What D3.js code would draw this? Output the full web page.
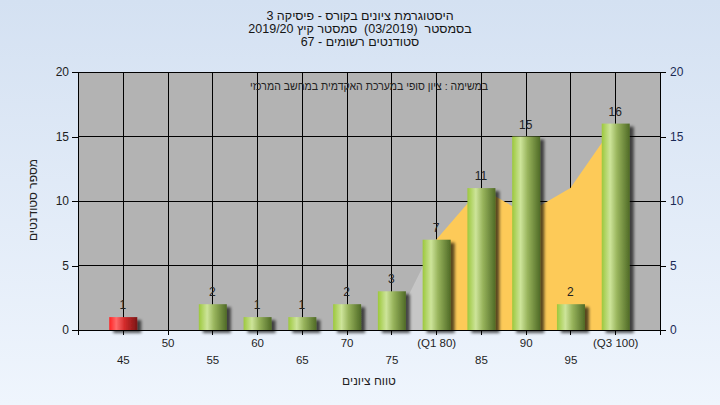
<!DOCTYPE html>
<html><head><meta charset="utf-8">
<script src="https://cdn.jsdelivr.net/npm/d3@7"></script>
<style>
html,body{margin:0;padding:0;overflow:hidden;}
svg text{font-family:"Liberation Sans","DejaVu Sans",sans-serif;}
</style></head>
<body>
<svg id="c" width="720" height="405"></svg>
<script>
const categories = ["45","50","55","60","65","70","75","80","85","90","95","100"];
const tickLabels = ["45","50","55","60","65","70","75","(Q1 80)","85","90","95","(Q3 100)"];
const counts = [1,0,2,1,1,2,3,7,11,15,2,16];
const areaValues = [0,0,0,0,0,0,0,7,11,9,11,16];
const failIndex = [0];
const yTicks = [0,5,10,15,20];
const titleLines = ["היסטוגרמת ציונים בקורס - פיסיקה 3","בסמסטר  (03/2019)  סמסטר קיץ 2019/20","סטודנטים רשומים - 67"];
const noteText = "במשימה : ציון סופי במערכת האקדמית במחשב המרכזי";
const xTitle = "טווח ציונים";
const yTitle = "מספר סטודנטים";
const q1 = "80", q3 = "100";

const svg = d3.select("#c");
const L = 78, R = 660, T = 72, B = 330;
const x = d3.scalePoint().domain(categories).range([L, R]).padding(1);
const y = d3.scaleLinear().domain([0, 20]).range([B, T]);
const defs = svg.append("defs");

const bg = defs.append("linearGradient").attr("id","bg").attr("x1",0).attr("y1",0).attr("x2",0).attr("y2",1);
bg.append("stop").attr("offset","0%").attr("stop-color","#d4e1f2");
bg.append("stop").attr("offset","100%").attr("stop-color","#eff5fd");

const gG = defs.append("linearGradient").attr("id","gbar").attr("x1",0).attr("y1",0).attr("x2",1).attr("y2",0);
[["0%","#9cc83c"],["30%","#cde49a"],["55%","#98b45c"],["100%","#4f6a26"]].forEach(s=>gG.append("stop").attr("offset",s[0]).attr("stop-color",s[1]));
const rG = defs.append("linearGradient").attr("id","rbar").attr("x1",0).attr("y1",0).attr("x2",1).attr("y2",0);
[["0%","#ff2020"],["25%","#ff6a6a"],["55%","#d22a2a"],["100%","#7a1616"]].forEach(s=>rG.append("stop").attr("offset",s[0]).attr("stop-color",s[1]));

const f = defs.append("filter").attr("id","sh").attr("x","-50%").attr("y","-50%").attr("width","200%").attr("height","200%");
f.append("feGaussianBlur").attr("in","SourceAlpha").attr("stdDeviation",1.8).attr("result","b");
f.append("feOffset").attr("in","b").attr("dx",4).attr("dy",3).attr("result","o");
f.append("feComponentTransfer").attr("in","o").attr("result","o2").append("feFuncA").attr("type","linear").attr("slope",0.65);
const fm = f.append("feMerge"); fm.append("feMergeNode").attr("in","o2"); fm.append("feMergeNode").attr("in","SourceGraphic");

defs.append("clipPath").attr("id","clipQ").append("rect")
  .attr("x", x(q1)).attr("y", T).attr("width", x(q3)-x(q1)).attr("height", B-T);
defs.append("clipPath").attr("id","clipLeft").append("rect")
  .attr("x", L).attr("y", T).attr("width", x(q1)-L).attr("height", B-T);

svg.append("rect").attr("width",720).attr("height",405).attr("fill","url(#bg)");

// plot background
svg.append("rect").attr("x",L).attr("y",T).attr("width",R-L).attr("height",B-T).attr("fill","#b3b3b3");

// gridlines
svg.append("g").selectAll("line").data(yTicks.filter(d=>d>0)).join("line")
  .attr("x1",L).attr("x2",R).attr("y1",d=>y(d)).attr("y2",d=>y(d)).attr("stroke","#000").attr("stroke-width",1).attr("shape-rendering","crispEdges");
svg.append("g").selectAll("line").data(categories).join("line")
  .attr("x1",d=>Math.round(x(d))).attr("x2",d=>Math.round(x(d))).attr("y1",T).attr("y2",B).attr("stroke","#000").attr("stroke-width",1).attr("shape-rendering","crispEdges");

// area series
const areaData = categories.map((c,i)=>({c, v: areaValues[i]}));
const area = d3.area().x(d=>x(d.c)).y0(B).y1(d=>y(d.v));
svg.append("path").datum(areaData).attr("d",area).attr("fill","#c6c6c6").attr("clip-path","url(#clipLeft)");
svg.append("path").datum(areaData).attr("d",area).attr("fill","#fdca58").attr("clip-path","url(#clipQ)");

// bars
const bw = 28;
const barData = categories.map((c,i)=>({c, v: counts[i], i})).filter(d=>d.v>0);
svg.append("g").selectAll("rect").data(barData).join("rect")
  .attr("x",d=>x(d.c)-bw/2+0.5).attr("width",bw)
  .attr("y",d=>y(d.v)).attr("height",d=>B-y(d.v))
  .attr("fill",d=>failIndex.includes(d.i)?"url(#rbar)":"url(#gbar)")
  .attr("filter","url(#sh)");

// value labels
svg.append("g").selectAll("text").data(barData).join("text")
  .attr("x",d=>x(d.c)).attr("y",d=>y(d.v)-8)
  .attr("text-anchor","middle").attr("font-size",12).attr("fill","#222")
  .text(d=>d.v);

// axes
const axL = svg.append("g").attr("transform",`translate(${L},0)`)
  .call(d3.axisLeft(y).tickValues(yTicks).tickSize(6).tickSizeOuter(0).tickPadding(3));
const axR = svg.append("g").attr("transform",`translate(${R},0)`)
  .call(d3.axisRight(y).tickValues(yTicks).tickSize(6).tickSizeOuter(0).tickPadding(4));
const axB = svg.append("g").attr("transform",`translate(0,${B})`)
  .call(d3.axisBottom(x).tickSize(5).tickSizeOuter(5).tickFormat((d,i)=>tickLabels[i]));
[axL,axR,axB].forEach(a=>{
  a.selectAll("path,line").attr("stroke","#000").attr("shape-rendering","crispEdges");
  a.selectAll("text").attr("font-size",12).attr("fill","#1e1e1e").attr("font-family","Liberation Sans, DejaVu Sans, sans-serif");
});
axR.selectAll("text").attr("fill","#1a2a55");
axB.selectAll(".tick text").attr("y",(d,i)=> i%2===0 ? 26 : 9).attr("dy","0.71em").attr("direction","ltr");
axB.selectAll(".tick text").attr("font-size",11.5);

// titles
svg.append("g").selectAll("text").data(titleLines).join("text")
  .attr("x",360).attr("y",(d,i)=>20+i*13).attr("text-anchor","middle")
  .attr("font-size",12.5).attr("fill","#151515").attr("direction","rtl").style("unicode-bidi","plaintext")
  .style("white-space","pre")
  .text(d=>d);

svg.append("text").attr("x",(L+R)/2).attr("y",90).attr("text-anchor","middle").attr("direction","rtl")
  .attr("font-size",11.5).attr("fill","#222")
  .attr("textLength",238).attr("lengthAdjust","spacingAndGlyphs").text(noteText);

svg.append("text").attr("x",(L+R)/2).attr("y",385).attr("text-anchor","middle").attr("direction","rtl")
  .attr("font-size",12).attr("fill","#222").text(xTitle);

svg.append("text").attr("transform",`translate(37,200) rotate(-90)`).attr("text-anchor","middle").attr("direction","rtl")
  .attr("font-size",12).attr("fill","#222").text(yTitle);
</script>
</body></html>
